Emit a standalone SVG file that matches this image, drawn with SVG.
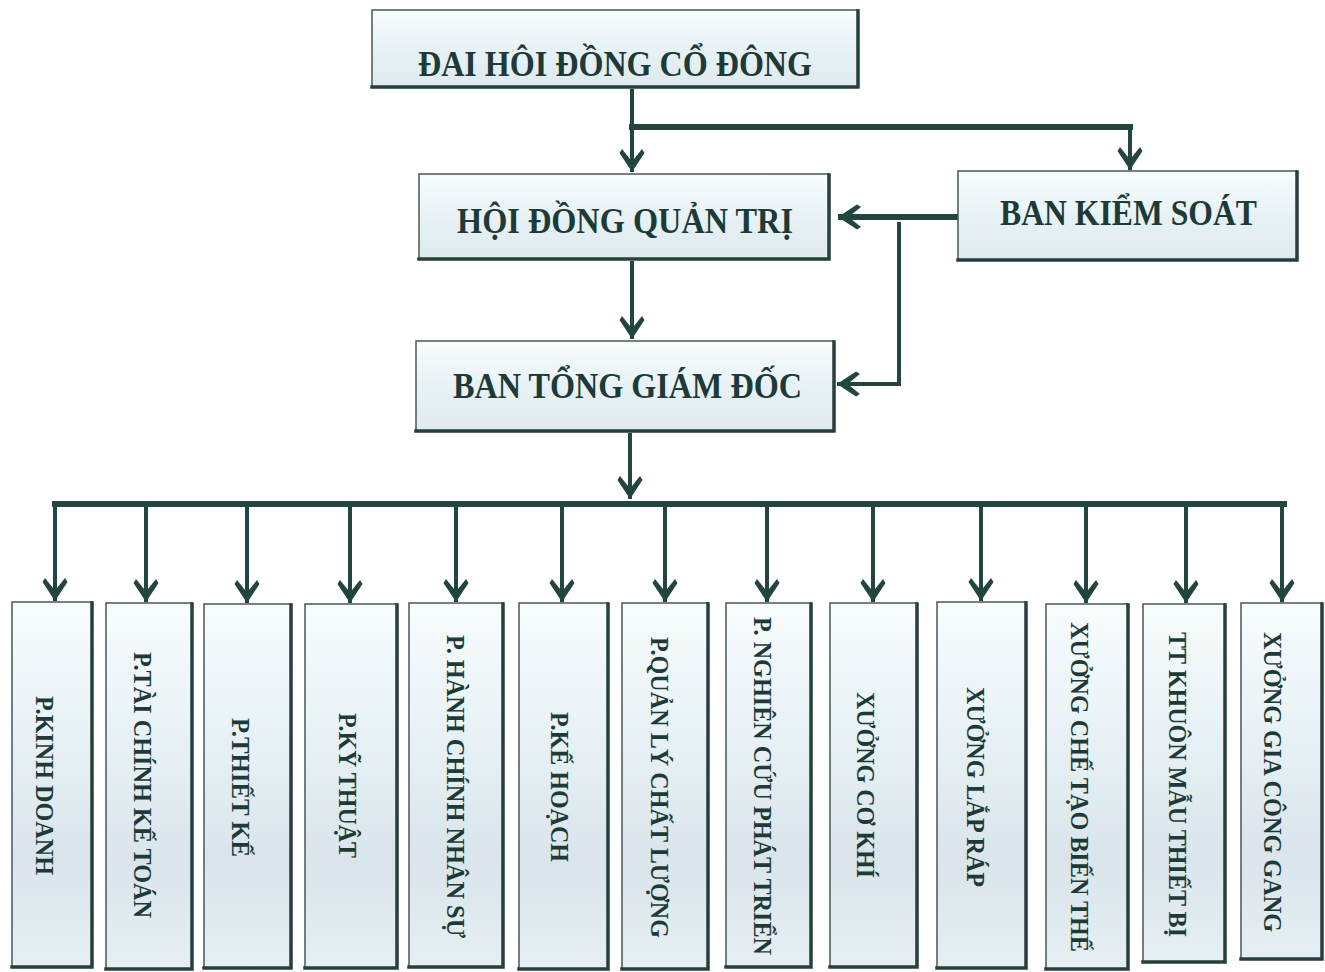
<svg xmlns="http://www.w3.org/2000/svg" width="1325" height="972" viewBox="0 0 1325 972">
<defs>
<linearGradient id="gfill" x1="0" y1="0" x2="0" y2="1">
<stop offset="0" stop-color="#f8fcfd"/>
<stop offset="0.55" stop-color="#e6f1f5"/>
<stop offset="1" stop-color="#dfeaef"/>
</linearGradient>
<linearGradient id="gfillv" x1="0" y1="0" x2="0" y2="1">
<stop offset="0" stop-color="#f8fcfd"/>
<stop offset="0.35" stop-color="#e8f2f6"/>
<stop offset="0.7" stop-color="#d9e5eb"/>
<stop offset="1" stop-color="#e5eff3"/>
</linearGradient>
<marker id="arr" markerUnits="userSpaceOnUse" viewBox="-25 -14 26 28" markerWidth="26" markerHeight="28" refX="0" refY="0" orient="auto">
<path d="M0,0 L-19,-12.5 L-23,-10 L-13,-2 L-13,2 L-23,10 L-19,12.5 Z" fill="#22463f"/>
</marker>
</defs>
<style>
.box{fill:url(#gfill);stroke:#4a5755;stroke-width:1.5}
.vbox{fill:url(#gfillv);stroke:#4a5755;stroke-width:1.5}
.sh{fill:none;stroke:#263f3c;stroke-width:3.5;stroke-linecap:square}
.t{font-family:"Liberation Serif","Times New Roman",serif;font-weight:bold;fill:#1d3a37}
.h{font-size:36px}
.v{font-size:25px}
.c{fill:none;stroke:#22463f;stroke-width:4}
.cb{fill:none;stroke:#22463f;stroke-width:6}
.a{marker-end:url(#arr)}
</style>
<rect width="1325" height="972" fill="#ffffff"/>

<g id="connectors">
<path class="c a" d="M632,89 V172"/>
<path class="cb" d="M629,127 H1133"/>
<path class="c a" d="M1130,127 V170"/>
<path class="cb a" d="M958,217 H838"/>
<path class="c" d="M899,222 V384"/>
<path class="c a" d="M901,384 H837"/>
<path class="c a" d="M632,261 V339"/>
<path class="c a" d="M630,433 V499"/>
<path class="cb" d="M52,504 H1287"/>
<path class="c a" d="M55,504 V601"/>
<path class="c a" d="M146,504 V602"/>
<path class="c a" d="M247,504 V603"/>
<path class="c a" d="M350,504 V603"/>
<path class="c a" d="M456,504 V602"/>
<path class="c a" d="M562,504 V602"/>
<path class="c a" d="M665,504 V602"/>
<path class="c a" d="M767,504 V602"/>
<path class="c a" d="M873,504 V602"/>
<path class="c a" d="M981,504 V601"/>
<path class="c a" d="M1086,504 V603"/>
<path class="c a" d="M1186,504 V603"/>
<path class="c a" d="M1282,504 V602"/>
</g>

<g id="n-dhdcd">
<rect class="box" x="372" y="10" width="486" height="77"/>
<path class="sh" d="M372,87 H858 V11"/>
<text class="t h" x="418" y="76" textLength="394" lengthAdjust="spacingAndGlyphs">ĐAI HÔI ĐỒNG CỔ ĐÔNG</text>
</g>

<g id="n-hdqt">
<rect class="box" x="419" y="174" width="410" height="85"/>
<path class="sh" d="M419,259 H829 V175"/>
<text class="t h" x="457" y="233" textLength="336" lengthAdjust="spacingAndGlyphs">HỘI ĐỒNG QUẢN TRỊ</text>
</g>

<g id="n-bks">
<rect class="box" x="958" y="171" width="339" height="89"/>
<path class="sh" d="M958,260 H1297 V172"/>
<text class="t h" x="1000" y="225" textLength="257" lengthAdjust="spacingAndGlyphs">BAN KIỂM SOÁT</text>
</g>

<g id="n-btgd">
<rect class="box" x="416" y="341" width="418" height="90"/>
<path class="sh" d="M416,431 H834 V342"/>
<text class="t h" x="453" y="398" textLength="349" lengthAdjust="spacingAndGlyphs">BAN TỔNG GIÁM ĐỐC</text>
</g>

<g id="n-kinhdoanh">
<rect class="vbox" x="12" y="602" width="80" height="365"/>
<path class="sh" d="M12,967 H92 V603"/>
<text class="t v" transform="translate(36,0) rotate(90)" x="696" y="0" textLength="179" lengthAdjust="spacingAndGlyphs">P.KINH DOANH</text>
</g>

<g id="n-taichinh">
<rect class="vbox" x="106" y="603" width="86" height="366"/>
<path class="sh" d="M106,969 H192 V604"/>
<text class="t v" transform="translate(134,0) rotate(90)" x="652" y="0" textLength="266" lengthAdjust="spacingAndGlyphs">P.TÀI CHÍNH KẾ TOÁN</text>
</g>

<g id="n-thietke">
<rect class="vbox" x="204" y="604" width="87" height="364"/>
<path class="sh" d="M204,968 H291 V605"/>
<text class="t v" transform="translate(232,0) rotate(90)" x="718" y="0" textLength="139" lengthAdjust="spacingAndGlyphs">P.THIẾT KẾ</text>
</g>

<g id="n-kythuat">
<rect class="vbox" x="305" y="604" width="92" height="364"/>
<path class="sh" d="M305,968 H397 V605"/>
<text class="t v" transform="translate(339,0) rotate(90)" x="713" y="0" textLength="145" lengthAdjust="spacingAndGlyphs">P.KỸ THUẬT</text>
</g>

<g id="n-hanhchinh">
<rect class="vbox" x="409" y="603" width="94" height="364"/>
<path class="sh" d="M409,967 H503 V604"/>
<text class="t v" transform="translate(447,0) rotate(90)" x="635" y="0" textLength="303" lengthAdjust="spacingAndGlyphs">P. HÀNH CHÍNH NHÂN SỰ</text>
</g>

<g id="n-kehoach">
<rect class="vbox" x="519" y="603" width="89" height="366"/>
<path class="sh" d="M519,969 H608 V604"/>
<text class="t v" transform="translate(551,0) rotate(90)" x="712" y="0" textLength="150" lengthAdjust="spacingAndGlyphs">P.KẾ HOẠCH</text>
</g>

<g id="n-quanly">
<rect class="vbox" x="622" y="603" width="86" height="366"/>
<path class="sh" d="M622,969 H708 V604"/>
<text class="t v" transform="translate(651,0) rotate(90)" x="637" y="0" textLength="301" lengthAdjust="spacingAndGlyphs">P.QUẢN LÝ CHẤT LƯỢNG</text>
</g>

<g id="n-nghiencuu">
<rect class="vbox" x="726" y="603" width="85" height="364"/>
<path class="sh" d="M726,967 H811 V604"/>
<text class="t v" transform="translate(754,0) rotate(90)" x="617" y="0" textLength="338" lengthAdjust="spacingAndGlyphs">P. NGHIÊN CỨU PHÁT TRIỂN</text>
</g>

<g id="n-cokhi">
<rect class="vbox" x="830" y="603" width="87" height="364"/>
<path class="sh" d="M830,967 H917 V604"/>
<text class="t v" transform="translate(857,0) rotate(90)" x="692" y="0" textLength="186" lengthAdjust="spacingAndGlyphs">XƯỞNG CƠ KHÍ</text>
</g>

<g id="n-lapr">
<rect class="vbox" x="937" y="602" width="89" height="366"/>
<path class="sh" d="M937,968 H1026 V603"/>
<text class="t v" transform="translate(967,0) rotate(90)" x="687" y="0" textLength="200" lengthAdjust="spacingAndGlyphs">XƯỞNG LẮP RÁP</text>
</g>

<g id="n-chetao">
<rect class="vbox" x="1046" y="604" width="82" height="365"/>
<path class="sh" d="M1046,969 H1128 V605"/>
<text class="t v" transform="translate(1071,0) rotate(90)" x="622" y="0" textLength="330" lengthAdjust="spacingAndGlyphs">XƯỞNG CHẾ TẠO BIẾN THẾ</text>
</g>

<g id="n-khuonmau">
<rect class="vbox" x="1143" y="604" width="82" height="358"/>
<path class="sh" d="M1143,962 H1225 V605"/>
<text class="t v" transform="translate(1169,0) rotate(90)" x="632" y="0" textLength="305" lengthAdjust="spacingAndGlyphs">TT KHUÔN MẪU THIẾT BỊ</text>
</g>

<g id="n-giacong">
<rect class="vbox" x="1241" y="603" width="81" height="356"/>
<path class="sh" d="M1241,959 H1322 V604"/>
<text class="t v" transform="translate(1264,0) rotate(90)" x="632" y="0" textLength="300" lengthAdjust="spacingAndGlyphs">XƯỞNG GIA CÔNG GANG</text>
</g>
</svg>
